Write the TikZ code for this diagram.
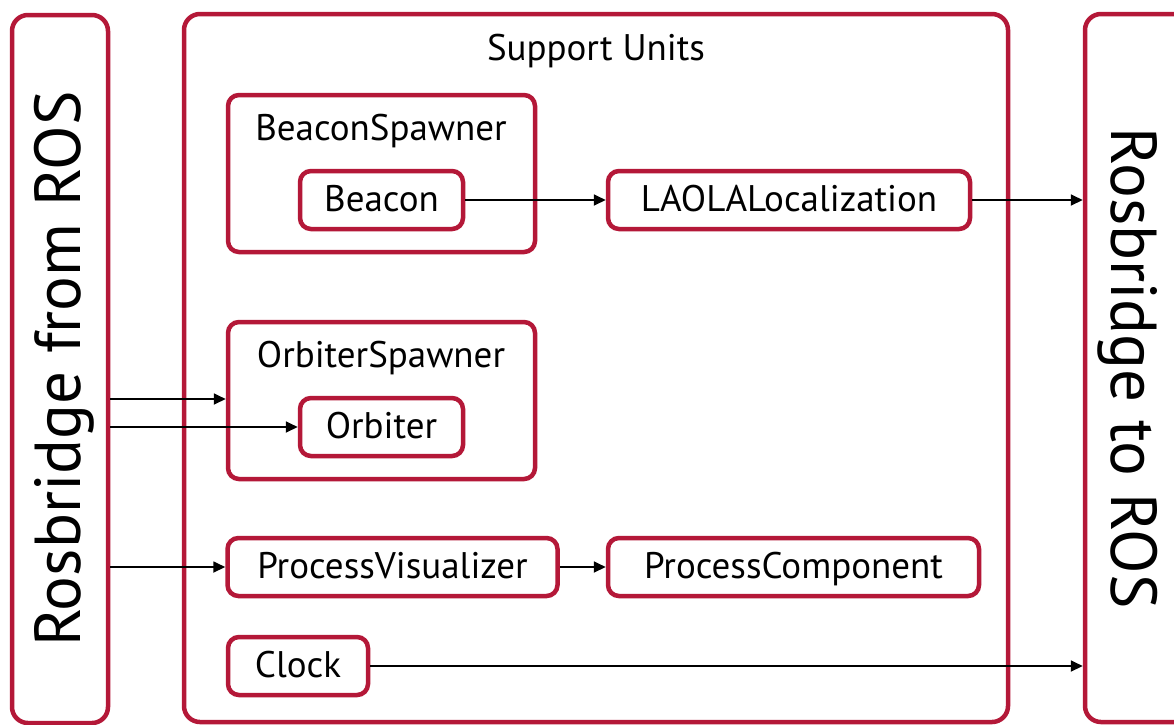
\documentclass[tikz,border=0pt]{standalone}
\usepackage{fontspec}
\setmainfont{PT Sans}
\usetikzlibrary{arrows.meta,calc}
\definecolor{unitred}{RGB}{180,24,56}
\begin{document}
\begin{tikzpicture}[x=1pt,y=-1pt,
  box/.style={draw=unitred,line width=4.5pt,rounded corners=11pt,fill=white,inner sep=0pt,
    font=\fontsize{37}{44}\selectfont,text=black,text height=24pt,text depth=2pt},
  bigbox/.style={box,rounded corners=16pt,font=\fontsize{65}{76}\selectfont,text height=46pt,text depth=6pt},
  flow/.style={-{Triangle[length=12pt,width=11pt]},line width=1.8pt,black},
  title/.style={inner sep=0pt,font=\fontsize{37}{44}\selectfont,text=black,text height=24pt,text depth=2pt}]
\useasboundingbox (0,0) rectangle (1174,724);
\clip (0,0) rectangle (1174,724);

% the two bridge columns and the enclosing support frame
\node[bigbox,rotate=90,minimum width=708pt,minimum height=96pt] (rosin) at (60,369) {Rosbridge from ROS};
\node[bigbox,rotate=-90,minimum width=708pt,minimum height=110pt] (rosout) at (1140,368) {};
\node[inner sep=0pt,rotate=-90,font=\fontsize{65}{76}\selectfont,text height=46pt,text depth=14pt] (rosoutlabel) at (1127,368) {Rosbridge to ROS};
\node[box,rounded corners=16pt,minimum width=824pt,minimum height=708pt] (support) at (596,368) {};
\node[title] (supporttitle) at (596,49) {Support Units};

% spawner groups
\node[box,minimum width=307pt,minimum height=157pt] (bspawn) at (381.5,173.5) {};
\node[title] (bspawnlabel) at (381,129) {BeaconSpawner};
\node[box,minimum width=307pt,minimum height=157pt] (ospawn) at (381.5,400.5) {};
\node[title] (ospawnlabel) at (381,356) {OrbiterSpawner};

% units
\node[box,minimum width=163pt,minimum height=58pt] (beacon) at (381.5,200) {Beacon};
\node[box,minimum width=163pt,minimum height=58pt] (orbiter) at (381.5,427) {Orbiter};
\node[box,minimum width=362pt,minimum height=58pt] (laola) at (789,200) {LAOLALocalization};
\node[box,minimum width=330pt,minimum height=58pt] (procvis) at (392.5,567) {ProcessVisualizer};
\node[box,minimum width=371pt,minimum height=58pt] (proccomp) at (793.5,567) {ProcessComponent};
\node[box,minimum width=140pt,minimum height=58pt] (clock) at (298,666) {Clock};

% data flow
\draw[flow] (beacon.east) -- (laola.west);
\draw[flow] (laola.east) -- (laola.east -| rosout.south);
\draw[flow] (rosin.south |- 0,399) -- (ospawn.west |- 0,399);
\draw[flow] (rosin.south |- orbiter.west) -- (orbiter.west);
\draw[flow] (rosin.south |- procvis.west) -- (procvis.west);
\draw[flow] (procvis.east) -- (proccomp.west);
\draw[flow] (clock.east) -- (clock.east -| rosout.south);
\end{tikzpicture}
\end{document}
